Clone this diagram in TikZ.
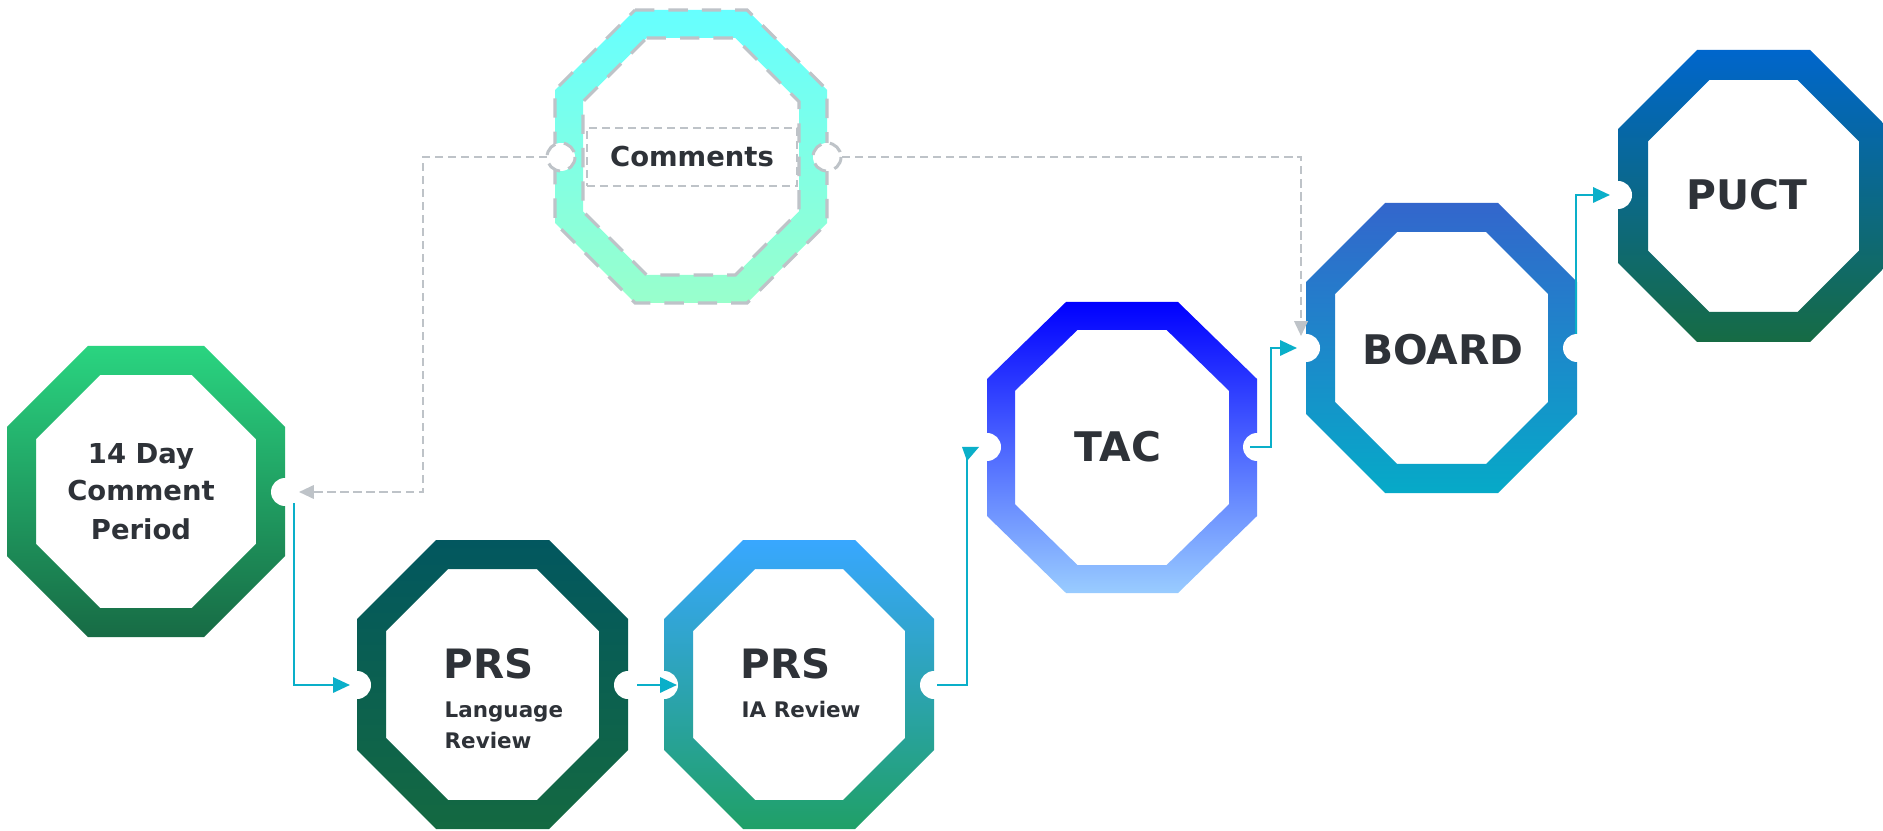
\documentclass[tikz,border=0pt]{standalone}
\usepackage{fontspec}
\usetikzlibrary{arrows.meta,calc}
\newfontfamily\dvfont{DejaVu Sans}
\definecolor{txt}{HTML}{2E3238}
\definecolor{link}{HTML}{0AAFC9}
\definecolor{gry}{HTML}{BEC3C8}
\definecolor{comT}{HTML}{66FFFF}\definecolor{comB}{HTML}{99FFCC}
\definecolor{dayT}{HTML}{2AD480}\definecolor{dayB}{HTML}{176B45}
\definecolor{lanT}{HTML}{02575F}\definecolor{lanB}{HTML}{146941}
\definecolor{iaT}{HTML}{38A7FF}\definecolor{iaB}{HTML}{20A067}
\definecolor{tacT}{HTML}{0000FF}\definecolor{tacB}{HTML}{99CCFF}
\definecolor{brdT}{HTML}{3366CC}\definecolor{brdB}{HTML}{06AAC8}
\definecolor{pucT}{HTML}{0066CC}\definecolor{pucB}{HTML}{166B44}
% #1 L, #2 T, #3 R, #4 B, #5 corner x, #6 corner y, #7 thickness, #8 options
\newcommand\octring[8]{%
  \pgfmathsetmacro\octS{sqrt((#5)*(#5)+(#6)*(#6))}%
  \pgfmathsetmacro\octCx{#5+#7*(\octS-#5)/#6-#7}%
  \pgfmathsetmacro\octCy{#6+#7*(\octS-#6)/#5-#7}%
  \pgfmathsetmacro\octL{#1+#7}%
  \pgfmathsetmacro\octT{#2+#7}%
  \pgfmathsetmacro\octR{#3-#7}%
  \pgfmathsetmacro\octB{#4-#7}%
  \shade[even odd rule,#8]
    (#1+#5,#2) -- (#3-#5,#2) -- (#3,#2+#6) -- (#3,#4-#6) -- (#3-#5,#4) -- (#1+#5,#4) -- (#1,#4-#6) -- (#1,#2+#6) -- cycle
    (\octL+\octCx,\octT) -- (\octR-\octCx,\octT) -- (\octR,\octT+\octCy) -- (\octR,\octB-\octCy) -- (\octR-\octCx,\octB) -- (\octL+\octCx,\octB) -- (\octL,\octB-\octCy) -- (\octL,\octT+\octCy) -- cycle;
}
\tikzset{
  port/.style={fill=white},
  dashport/.style={fill=white,draw=gry,line width=0.85pt,dash pattern=on 4pt off 2.5pt},
  flow/.style={draw=link,line width=0.7pt,-{Triangle[length=4.8pt,width=4.3pt]}},
  dflow/.style={draw=gry,line width=0.6pt,dash pattern=on 2.3pt off 1.4pt,-{Triangle[length=4.2pt,width=3.8pt,fill=gry]}},
  big/.style={text=txt,inner sep=0pt,font=\dvfont\bfseries\fontsize{11.6pt}{13pt}\selectfont},
  small/.style={text=txt,inner sep=0pt,font=\dvfont\bfseries\fontsize{7.8pt}{9pt}\selectfont},
  prsbig/.style={text=txt,inner sep=0pt,anchor=base west,font=\dvfont\bfseries\fontsize{11.5pt}{13pt}\selectfont},
  prssmall/.style={text=txt,inner sep=0pt,anchor=base west,font=\dvfont\bfseries\fontsize{6.1pt}{8pt}\selectfont},
}
\begin{document}
\begin{tikzpicture}[x=0.01cm,y=-0.01cm]
\useasboundingbox (0,0) rectangle (1883,831);
\fill[white] (0,0) rectangle (1883,831);
% rings
\octring{555}{10}{827}{303}{80}{80}{28}{top color=comT,bottom color=comB,draw=gry,line width=0.9pt,dash pattern=on 5.5pt off 4pt}
\octring{7}{346}{285}{637}{81}{81}{29}{top color=dayT,bottom color=dayB}
\octring{357}{540}{628}{829}{79}{79}{29}{top color=lanT,bottom color=lanB}
\octring{664}{540}{934}{829}{79}{79}{29}{top color=iaT,bottom color=iaB}
\octring{987}{302}{1257}{593}{79}{77}{28}{top color=tacT,bottom color=tacB}
\octring{1306}{203}{1577}{493}{79}{79}{29}{top color=brdT,bottom color=brdB}
\octring{1618}{50}{1889}{342}{79}{79}{30}{top color=pucT,bottom color=pucB}
% ports
\coordinate (comL) at (561,157);
\coordinate (comR) at (827,157);
\coordinate (dayR) at (285,492);
\coordinate (lanL) at (357,685);
\coordinate (lanR) at (628,685);
\coordinate (iaL) at (664,685);
\coordinate (iaR) at (934,685);
\coordinate (tacL) at (987,447);
\coordinate (tacR) at (1257,447);
\coordinate (brdL) at (1306,348);
\coordinate (brdR) at (1577,348);
\coordinate (pucL) at (1618,195);
\foreach \p in {dayR,lanL,lanR,iaL,iaR,tacL,tacR,brdL,brdR,pucL}
  \fill[port] (\p) circle (14);
\filldraw[dashport] (comL) circle (14);
\filldraw[dashport] (comR) circle (14);
% texts
\node[small,draw=gry,line width=0.45pt,dash pattern=on 2.3pt off 1.4pt,minimum width=2.1cm,minimum height=0.58cm] (com) at (692,157) {Comments};
\node[small,anchor=base] (day1) at (141,463) {14 Day};
\node[small,anchor=base] (day2) at (141,500) {Comment};
\node[small,anchor=base] (day3) at (141,539) {Period};
\node[prsbig] (lan1) at (443,678) {PRS};
\node[prssmall] (lan2) at (444,717) {Language};
\node[prssmall] (lan3) at (444,748) {Review};
\node[prsbig] (ia1) at (740,678) {PRS};
\node[prssmall] (ia2) at (741,717) {IA Review};
\node[big] (tac) at (1118,447) {TAC};
\node[big] (brd) at (1443,350) {BOARD};
\node[big] (puc) at (1747,195) {PUCT};
% connectors
\draw[flow] ($(dayR)+(9,11)$) |- ($(lanL)+(-7,0)$);
\draw[flow] ($(lanR)+(9,0)$) -- ($(iaL)+(13,0)$);
\draw[draw=link,line width=0.7pt] ($(iaR)+(3,0)$) -| ($(tacL)+(-20,11)$);
\fill[link] ($(tacL)+(-25,0)$) -- ($(tacL)+(-8,0)$) -- ($(tacL)+(-20,14)$) -- cycle;
\draw[flow] ($(tacR)+(-7,0)$) -- ++(21,0) |- ($(brdL)+(-9,0)$);
\draw[flow] ($(brdR)+(-1,-14)$) |- ($(pucL)+(-8,0)$);
\draw[dflow] ($(comL)+(-14,0)$) -- ++(-124,0) |- ($(dayR)+(14,0)$);
\draw[dflow] ($(comR)+(15,0)$) -| ($(brdL)+(-5,-12)$);
\end{tikzpicture}
\end{document}
